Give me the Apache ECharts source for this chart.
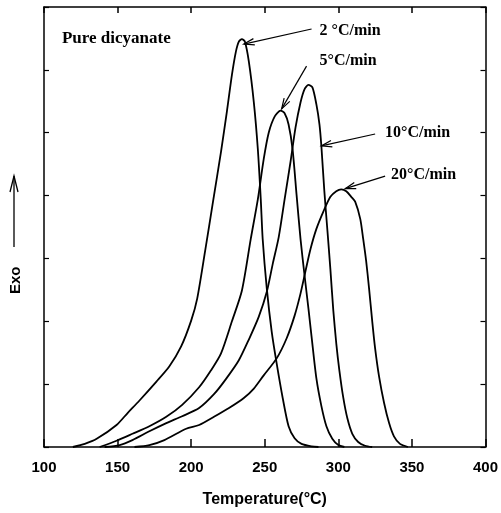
<!DOCTYPE html>
<html><head><meta charset="utf-8">
<script src="https://cdn.jsdelivr.net/npm/echarts@6/dist/echarts.min.js"></script>
<style>html,body{margin:0;padding:0;background:#fff}#c{width:501px;height:513px}</style>
</head><body><div id="c"></div>
<script>
// Temperature (°C) and exotherm (arbitrary units) for each heating rate
const temp2 = [119.6, 127.7, 135.8, 149.3, 156.8, 164.9, 176.4, 185.1, 193.2, 200.0, 204.1, 209.5, 214.9, 220.3, 224.3, 227.7, 230.4, 232.4, 234.5, 236.5, 239.2, 242.6, 245.3, 247.3, 248.6, 251.4, 254.7, 258.1, 262.2, 266.2, 270.3, 275.0, 281.8, 286.5];
const exo2  = [0, 0.05, 0.13, 0.35, 0.54, 0.74, 1.04, 1.28, 1.60, 2.01, 2.36, 3.12, 3.91, 4.70, 5.34, 5.92, 6.29, 6.45, 6.49, 6.45, 6.13, 5.48, 4.74, 3.94, 3.31, 2.52, 1.84, 1.33, 0.78, 0.33, 0.14, 0.05, 0.01, 0];

const temp5 = [137.8, 149.3, 160.1, 171.6, 183.1, 193.9, 205.4, 213.5, 220.3, 227.7, 234.5, 240.5, 245.3, 249.3, 252.7, 256.8, 260.8, 263.5, 266.2, 268.9, 271.6, 274.3, 277.0, 279.7, 281.8, 285.1, 288.5, 291.9, 295.9, 300.0, 304.1];
const exo5  = [0, 0.10, 0.21, 0.33, 0.48, 0.67, 0.95, 1.22, 1.49, 2.00, 2.49, 3.31, 3.94, 4.58, 5.00, 5.26, 5.35, 5.31, 5.13, 4.74, 4.02, 3.31, 2.74, 2.20, 1.76, 1.09, 0.65, 0.33, 0.13, 0.03, 0];

const temp10 = [141.2, 151.4, 160.1, 171.6, 183.1, 193.9, 205.4, 215.5, 223.6, 232.4, 239.2, 245.9, 251.4, 255.4, 259.5, 263.5, 267.6, 270.9, 274.3, 277.0, 279.7, 282.4, 285.1, 287.2, 288.5, 290.5, 292.6, 294.6, 296.6, 298.6, 300.7, 303.4, 306.1, 309.5, 313.5, 318.2, 323.0];
const exo10  = [0, 0.03, 0.11, 0.25, 0.38, 0.49, 0.62, 0.84, 1.08, 1.38, 1.71, 2.07, 2.47, 2.91, 3.34, 3.94, 4.55, 5.08, 5.48, 5.69, 5.76, 5.72, 5.45, 5.13, 4.78, 4.07, 3.44, 2.83, 2.17, 1.65, 1.22, 0.78, 0.46, 0.21, 0.08, 0.02, 0];

const temp20 = [161.5, 171.6, 181.8, 196.6, 205.4, 215.5, 225.7, 235.8, 242.6, 249.3, 258.1, 264.9, 270.3, 274.3, 277.7, 281.1, 285.1, 289.9, 294.6, 298.6, 302.0, 305.4, 308.8, 311.5, 314.9, 316.9, 318.9, 320.9, 323.0, 325.0, 327.7, 331.1, 334.5, 337.8, 341.9, 347.3];
const exo20  = [0, 0.03, 0.11, 0.29, 0.35, 0.48, 0.62, 0.78, 0.93, 1.14, 1.41, 1.73, 2.09, 2.44, 2.80, 3.15, 3.47, 3.75, 3.98, 4.07, 4.10, 4.07, 3.98, 3.90, 3.63, 3.31, 2.96, 2.52, 2.01, 1.57, 1.12, 0.70, 0.38, 0.17, 0.05, 0];

const xTicks = [100, 150, 200, 250, 300, 350, 400];
const rateLabels = ['2 °C/min', '5°C/min', '10°C/min', '20°C/min'];
const title = 'Pure dicyanate';

const chart = echarts.init(document.getElementById('c'));
const pair = (t, v) => t.map((x, i) => [x, v[i]]);
const axisCol = '#000';
const sansFont = 'Liberation Sans, Arial, sans-serif';
const serifFont = 'Liberation Serif, Times New Roman, serif';

function xAxisCfg(pos, show) {
  return {
    type: 'value', position: pos, min: xTicks[0], max: xTicks[xTicks.length - 1], interval: 50,
    axisLine: { show: true, onZero: false, lineStyle: { color: axisCol, width: 1.5 } },
    axisTick: { show: true, inside: true, length: pos === 'bottom' ? 8 : 6, lineStyle: { color: axisCol, width: 1.5 } },
    splitLine: { show: false },
    axisLabel: { show: show, color: '#000', fontSize: 15, fontWeight: 'bold', fontFamily: sansFont, margin: 13 },
    name: show ? 'Temperature(°C)' : '', nameLocation: 'middle', nameGap: 45,
    nameTextStyle: { color: '#000', fontSize: 16, fontWeight: 'bold', fontFamily: sansFont }
  };
}
function yAxisCfg(pos) {
  return {
    type: 'value', position: pos, min: 0, max: 7, interval: 1,
    axisLine: { show: true, onZero: false, lineStyle: { color: axisCol, width: 1.5 } },
    axisTick: { show: true, inside: true, length: 5, lineStyle: { color: axisCol, width: 1.2 } },
    splitLine: { show: false }, axisLabel: { show: false }
  };
}
function lineSeries(name, t, v) {
  return { name, type: 'line', data: pair(t, v), showSymbol: false, smooth: 0.25,
    lineStyle: { color: '#000', width: 1.8 }, silent: true, animation: false };
}

chart.setOption({
  animation: false,
  backgroundColor: '#fff',
  grid: { left: 44, right: 13, top: 7, bottom: 64 },
  xAxis: [xAxisCfg('bottom', true), xAxisCfg('top', false)],
  yAxis: [yAxisCfg('left'), yAxisCfg('right')],
  series: [
    lineSeries(rateLabels[0], temp2, exo2),
    lineSeries(rateLabels[1], temp5, exo5),
    lineSeries(rateLabels[2], temp10, exo10),
    lineSeries(rateLabels[3], temp20, exo20)
  ]
});

// annotations anchored in data coordinates
const anno = [
  { text: rateLabels[0], label: [287.2, 6.60], from: [281.8, 6.65], to: [235.8, 6.41] },
  { text: rateLabels[1], label: [287.2, 6.13], from: [278.4, 6.06], to: [261.5, 5.38] },
  { text: rateLabels[2], label: [331.8, 4.98], from: [325.0, 4.98], to: [288.5, 4.79] },
  { text: rateLabels[3], label: [335.8, 4.31], from: [331.8, 4.31], to: [304.7, 4.11] }
];
const P = (d) => chart.convertToPixel({ xAxisIndex: 0, yAxisIndex: 0 }, d);
const graphics = [];
anno.forEach(a => {
  const lp = P(a.label), f = P(a.from), t = P(a.to);
  graphics.push({ type: 'text', left: lp[0], top: lp[1] - 9, style: { text: a.text, fill: '#000', font: 'bold 16px ' + serifFont } });
  graphics.push({ type: 'line', shape: { x1: f[0], y1: f[1], x2: t[0], y2: t[1] }, style: { stroke: '#000', lineWidth: 1.2 } });
  const ang = Math.atan2(f[1] - t[1], f[0] - t[0]);
  const L = 11, w = 0.3;
  graphics.push({ type: 'polyline', shape: { points: [
    [t[0] + L * Math.cos(ang + w), t[1] + L * Math.sin(ang + w)], [t[0], t[1]],
    [t[0] + L * Math.cos(ang - w), t[1] + L * Math.sin(ang - w)] ] },
    style: { stroke: '#000', lineWidth: 1.2, fill: null } });
});
const tp = P([112.2, 6.47]);
graphics.push({ type: 'text', left: tp[0], top: tp[1] - 10, style: { text: title, fill: '#000', font: 'bold 17px ' + serifFont } });
// "Exo" with upward arrow at left
graphics.push({ type: 'text', x: 8, y: 294, rotation: Math.PI / 2, style: { text: 'Exo', fill: '#000', font: 'bold 15px ' + sansFont, textVerticalAlign: 'top' } });
graphics.push({ type: 'line', shape: { x1: 14, y1: 247, x2: 14, y2: 176 }, style: { stroke: '#000', lineWidth: 1.3 } });
graphics.push({ type: 'polyline', shape: { points: [[10, 192], [14, 176], [18, 192]] }, style: { stroke: '#000', lineWidth: 1.3, fill: null } });
chart.setOption({ graphic: graphics });
</script></body></html>
